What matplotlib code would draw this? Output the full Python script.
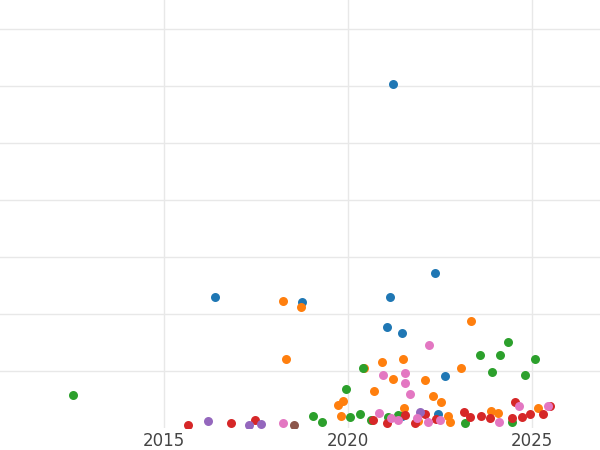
import matplotlib.pyplot as plt

# (year, value) per series
blue_x = [2021.22, 2016.38, 2018.75, 2021.14, 2022.36, 2021.06, 2021.46, 2022.63, 2022.44, 2021.46]
blue_y = [6.02, 2.30, 2.21, 2.30, 2.72, 1.77, 1.67, 0.91, 0.25, 0.21]
orange_x = [2018.23, 2018.72, 2018.31, 2023.34, 2020.92, 2021.49, 2020.43, 2023.07, 2020.70, 2021.22,
            2022.09, 2019.86, 2019.72, 2022.31, 2022.52, 2021.52, 2019.81, 2022.71, 2024.07, 2025.16,
            2023.88, 2022.77, 2021.90]
orange_y = [2.23, 2.12, 1.21, 1.88, 1.16, 1.21, 1.05, 1.05, 0.65, 0.86,
            0.84, 0.47, 0.40, 0.56, 0.46, 0.35, 0.21, 0.21, 0.26, 0.35,
            0.30, 0.11, 0.12]
green_x = [2012.52, 2019.94, 2020.40, 2023.58, 2024.34, 2025.08, 2024.13, 2023.91, 2024.81, 2019.05,
           2019.29, 2020.05, 2020.32, 2020.62, 2021.36, 2023.18, 2024.45, 2021.08]
green_y = [0.58, 0.68, 1.05, 1.28, 1.51, 1.21, 1.28, 0.98, 0.93, 0.21,
           0.11, 0.19, 0.25, 0.14, 0.23, 0.09, 0.11, 0.19]
red_x = [2015.65, 2016.82, 2017.47, 2020.68, 2021.06, 2021.55, 2022.09, 2021.82, 2023.15, 2023.31,
         2023.61, 2023.85, 2024.53, 2024.45, 2024.72, 2024.94, 2025.29, 2025.49, 2022.39]
red_y = [0.05, 0.09, 0.14, 0.14, 0.09, 0.23, 0.25, 0.09, 0.28, 0.19,
         0.21, 0.18, 0.46, 0.18, 0.19, 0.25, 0.25, 0.39, 0.16]
purple_x = [2016.19, 2017.31, 2017.63, 2021.96]
purple_y = [0.12, 0.05, 0.07, 0.28]
brown_x = [2018.53]
brown_y = [0.05]
pink_x = [2022.20, 2020.95, 2021.55, 2021.55, 2021.68, 2020.84, 2018.23, 2022.17, 2024.64, 2025.43,
          2024.10, 2022.50, 2021.36, 2021.87, 2021.17]
pink_y = [1.46, 0.93, 0.96, 0.79, 0.60, 0.26, 0.09, 0.11, 0.39, 0.39,
          0.11, 0.14, 0.14, 0.18, 0.18]

series = [
    (blue_x, blue_y, "#1f77b4"),
    (orange_x, orange_y, "#ff7f0e"),
    (green_x, green_y, "#2ca02c"),
    (red_x, red_y, "#d62728"),
    (purple_x, purple_y, "#9467bd"),
    (brown_x, brown_y, "#8c564b"),
    (pink_x, pink_y, "#e377c2"),
]

fig = plt.figure(figsize=(6, 4.5), dpi=100)
ax = fig.add_axes([0, 0.049, 1, 0.951])
for xs, ys, c in series:
    ax.scatter(xs, ys, s=42, color=c, linewidths=0, zorder=3)

ax.set_xlim(2010.54, 2026.85)
ax.set_ylim(0, 7.5)
ax.set_xticks([2015, 2020, 2025])
ax.set_yticks(range(1, 8))
ax.set_yticklabels([])
ax.grid(True, color="#e8e8e8", linewidth=1)
ax.set_axisbelow(True)
for s in ax.spines.values():
    s.set_visible(False)
ax.tick_params(length=0, labelsize=12, labelcolor="#444444", pad=3)

fig.savefig("out.png", dpi=100)
